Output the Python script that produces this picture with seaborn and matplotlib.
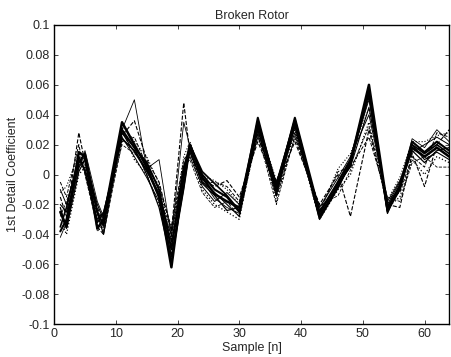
import numpy as np
import pandas as pd
import matplotlib
matplotlib.use("Agg")
import matplotlib.pyplot as plt
import seaborn as sns

# --- Data ---
samples = [1, 2, 4, 5, 7, 8, 11, 13, 15, 17, 19, 21, 22, 24, 26, 28, 30,
           33, 36, 39, 43, 46, 48, 51, 54, 56, 58, 60, 62, 64]

curve_a = [-0.025, -0.035, 0.015, 0.012, -0.036, -0.030, 0.035, 0.020, 0.005, -0.015, -0.062, 0.000, 0.020, -0.002, -0.013,
           -0.018, -0.022, 0.035, -0.008, 0.036, -0.028, -0.008, 0.008, 0.060, -0.022, -0.008, 0.018, 0.012, 0.018, 0.012]
curve_b = [-0.038, -0.030, 0.008, 0.014, -0.025, -0.034, 0.030, 0.018, 0.008, -0.010, -0.050, 0.005, 0.018, 0.000, -0.010,
           -0.015, -0.025, 0.038, -0.010, 0.038, -0.025, -0.005, 0.010, 0.055, -0.024, -0.010, 0.022, 0.015, 0.022, 0.016]
curve_c = [-0.020, -0.025, 0.005, 0.010, -0.020, -0.030, 0.028, 0.015, 0.002, -0.012, -0.045, -0.002, 0.015, -0.005, -0.012,
           -0.020, -0.028, 0.030, -0.012, 0.032, -0.026, -0.006, 0.005, 0.045, -0.020, -0.005, 0.020, 0.010, 0.015, 0.010]
curve_d = [-0.010, -0.020, 0.010, 0.004, -0.030, -0.025, 0.025, 0.012, -0.002, -0.018, -0.040, 0.004, 0.012, -0.008, -0.018,
           -0.012, -0.020, 0.025, -0.005, 0.028, -0.022, -0.002, 0.012, 0.040, -0.018, -0.004, 0.015, 0.020, 0.025, 0.020]
curve_e = [-0.005, -0.015, 0.020, 0.000, -0.035, -0.040, 0.022, 0.025, 0.006, -0.008, -0.035, 0.010, 0.015, -0.006, -0.005,
           -0.008, -0.018, 0.028, -0.015, 0.025, -0.024, 0.002, 0.005, 0.025, -0.016, -0.012, 0.012, 0.005, 0.028, 0.025]
curve_f = [-0.030, -0.040, 0.000, 0.005, -0.028, -0.038, 0.032, 0.010, 0.000, -0.020, -0.048, -0.005, 0.016, -0.010, -0.020,
           -0.025, -0.030, 0.033, -0.018, 0.030, -0.030, -0.010, 0.000, 0.035, -0.022, -0.015, 0.010, 0.000, 0.012, 0.008]
curve_g = [-0.015, -0.028, 0.028, 0.008, -0.022, -0.032, 0.026, 0.036, 0.010, -0.005, -0.038, 0.048, 0.014, -0.003, -0.008,
           -0.004, -0.015, 0.022, -0.008, 0.022, -0.020, 0.000, -0.028, 0.030, -0.020, -0.022, 0.014, -0.008, 0.020, 0.030]
curve_h = [-0.042, -0.032, 0.004, 0.016, -0.018, -0.028, 0.030, 0.050, 0.004, 0.010, -0.042, 0.035, 0.019, -0.004, -0.016,
           -0.022, -0.026, 0.036, -0.012, 0.034, -0.027, -0.004, 0.010, 0.050, -0.023, -0.006, 0.024, 0.018, 0.030, 0.022]
curve_i = [-0.035, -0.022, 0.012, 0.002, -0.032, -0.026, 0.024, 0.016, 0.003, -0.014, -0.055, -0.008, 0.020, 0.002, -0.006,
           -0.014, -0.024, 0.032, -0.006, 0.036, -0.029, -0.007, 0.006, 0.058, -0.025, -0.009, 0.020, 0.014, 0.020, 0.014]
curve_j = [-0.028, -0.018, 0.006, 0.012, -0.038, -0.033, 0.020, 0.014, 0.008, -0.016, -0.036, 0.006, 0.010, -0.012, -0.022,
           -0.018, -0.028, 0.027, -0.020, 0.026, -0.021, -0.014, 0.003, 0.032, -0.015, -0.018, 0.008, 0.012, 0.005, 0.005]
curve_k = [-0.012, -0.008, 0.014, 0.006, -0.024, -0.036, 0.034, 0.022, 0.012, -0.006, -0.044, 0.012, 0.022, -0.001, -0.004,
           -0.010, -0.020, 0.034, -0.004, 0.030, -0.025, 0.004, 0.014, 0.044, -0.017, -0.002, 0.022, 0.022, 0.026, 0.028]
curve_l = [-0.022, -0.036, 0.002, 0.010, -0.026, -0.040, 0.028, 0.018, 0.000, -0.022, -0.058, -0.010, 0.017, -0.006, -0.014,
           -0.024, -0.022, 0.030, -0.014, 0.033, -0.030, -0.009, 0.008, 0.052, -0.026, -0.007, 0.016, 0.008, 0.016, 0.018]

curves = [curve_a, curve_b, curve_c, curve_d, curve_e, curve_f,
          curve_g, curve_h, curve_i, curve_j, curve_k, curve_l]
# (linestyle, linewidth) per trace - scanned print is all black
styles = [("-", 1.8), ("-", 1.5), ("-", 0.8), ("-", 0.7), ("--", 0.7), (":", 0.9),
          ("--", 0.8), ("-", 0.6), ("-", 1.2), ("--", 0.6), (":", 0.8), ("-", 0.9)]

x_ticks = [0, 10, 20, 30, 40, 50, 60]
y_ticks = [-0.1, -0.08, -0.06, -0.04, -0.02, 0, 0.02, 0.04, 0.06, 0.08, 0.1]
y_tick_labels = ["-0.1", "-0.08", "-0.06", "-0.04", "-0.02", "0",
                 "0.02", "0.04", "0.06", "0.08", "0.1"]

# --- Styling ---
sns.set_theme(style="white")
plt.rcParams["font.family"] = ["Liberation Sans", "DejaVu Sans"]

fig = plt.figure(figsize=(4.51, 3.57), dpi=100)
ax = fig.add_axes([0.12, 0.092, 0.876, 0.838])

for vals, (ls, lw) in zip(curves, styles):
    df = pd.DataFrame({"n": samples, "coef": vals})
    sns.lineplot(data=df, x="n", y="coef", color="black", linestyle=ls,
                 linewidth=lw, ax=ax, estimator=None, sort=False)

ax.set_xlim(0, 64)
ax.set_ylim(-0.1, 0.1)
ax.set_xticks(x_ticks)
ax.set_xticklabels([str(t) for t in x_ticks])
ax.set_yticks(y_ticks)
ax.set_yticklabels(y_tick_labels)
ax.tick_params(direction="in", length=3, width=0.6, labelsize=9,
               top=True, right=True, bottom=True, left=True, pad=3)
for s in ax.spines.values():
    s.set_color("black")
    s.set_linewidth(1.0)

ax.set_title("Broken Rotor", fontsize=9, pad=4)
ax.set_xlabel("Sample [n]", fontsize=9, labelpad=1)
ax.set_ylabel("1st Detail Coefficient", fontsize=9, labelpad=2)

fig.savefig("out.png", dpi=100, facecolor="white")
